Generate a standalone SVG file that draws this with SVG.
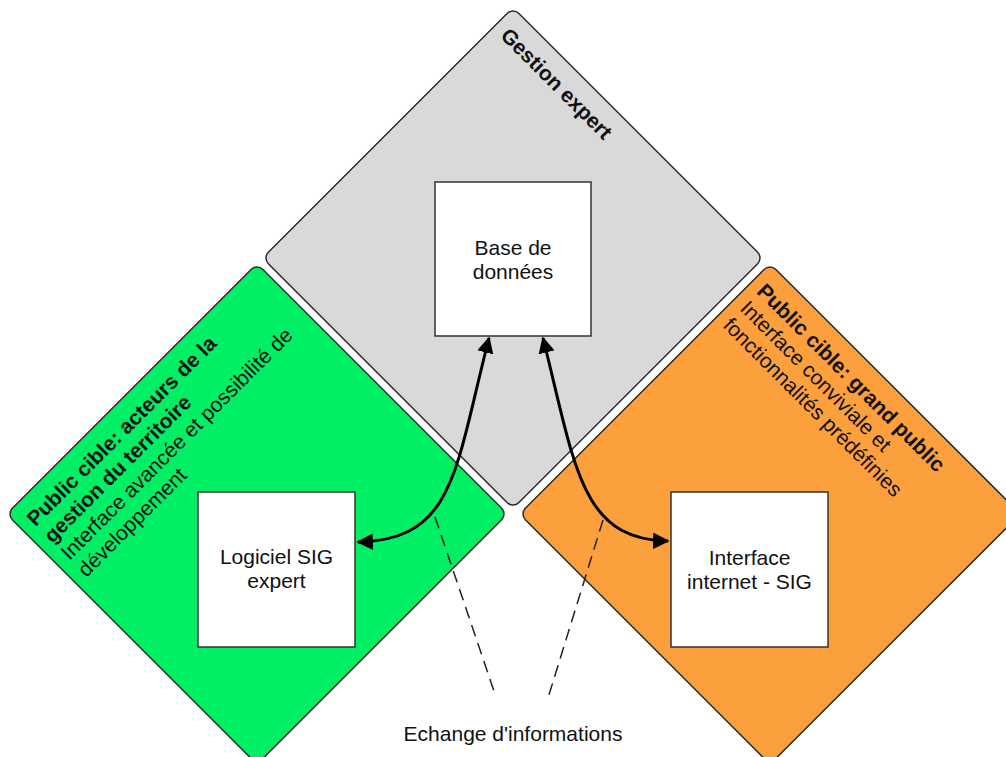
<svg xmlns="http://www.w3.org/2000/svg" width="1006" height="757" viewBox="0 0 1006 757">
<defs>
<style>
.dia{stroke:#2b2b2b;stroke-width:1.5}
.box{fill:#fff;stroke:#333;stroke-width:1.5}
text{font-family:"Liberation Sans",Arial,Helvetica,sans-serif;font-size:21px;fill:#111}
.c{text-anchor:middle}
.b{font-weight:bold}
.conn{fill:none;stroke:#000;stroke-width:3}
.dash{fill:none;stroke:#222;stroke-width:1.5;stroke-dasharray:12 7}
</style>
<marker id="ah" viewBox="0 0 10 10" refX="9" refY="5" markerWidth="5.5" markerHeight="5.5" orient="auto-start-reverse" markerUnits="strokeWidth">
<path d="M0,0 L10,5 L0,10 z" fill="#000"/>
</marker>
</defs>
<rect width="1006" height="757" fill="#fff"/>
<g id="zone-gestion">
<rect class="dia" x="-177" y="-177" width="354" height="354" rx="8" fill="#d9d9d9" transform="translate(513,258) rotate(45)"/>
<text class="b" transform="translate(513,12) rotate(45)" x="8" y="27">Gestion expert</text>
</g>
<g id="zone-acteurs">
<rect class="dia" x="-177" y="-177" width="354" height="354" rx="8" fill="#00ef64" transform="translate(257,514) rotate(45)"/>
<g transform="translate(10,513) rotate(-45)">
<text class="b" x="8" y="28">Public cible: acteurs de la</text>
<text class="b" x="8" y="52">gestion du territoire</text>
<text x="8" y="76">Interface avancée et possibilité de</text>
<text x="8" y="100">développement</text>
</g>
</g>
<g id="zone-public">
<rect class="dia" x="-177" y="-177" width="354" height="354" rx="8" fill="#fba03d" transform="translate(770,514) rotate(45)"/>
<g transform="translate(770,267) rotate(45)">
<text class="b" x="8" y="28">Public cible: grand public</text>
<text x="8" y="52">Interface conviviale et</text>
<text x="8" y="76">fonctionnalités prédéfinies</text>
</g>
</g>
<g id="node-bdd">
<rect class="box" x="435" y="182" width="156" height="154"/>
<text class="c" x="513" y="255">Base de</text>
<text class="c" x="513" y="279">données</text>
</g>
<g id="node-sig">
<rect class="box" x="198" y="492" width="157" height="155"/>
<text class="c" x="276.5" y="564">Logiciel SIG</text>
<text class="c" x="276.5" y="588">expert</text>
</g>
<g id="node-web">
<rect class="box" x="671" y="492" width="157" height="155"/>
<text class="c" x="749.5" y="565">Interface</text>
<text class="c" x="749.5" y="589">internet - SIG</text>
</g>
<g id="connectors">
<path class="conn" d="M489,338 C455,470 455,540 358,542" marker-start="url(#ah)" marker-end="url(#ah)"/>
<path class="conn" d="M543,338 C575,465 580,540 668,541" marker-start="url(#ah)" marker-end="url(#ah)"/>
<path class="dash" d="M435,517 L496,697"/>
<path class="dash" d="M603,520 L548,698"/>
</g>
<g id="label-echange">
<text class="c" x="513" y="741">Echange d'informations</text>
</g>
</svg>
